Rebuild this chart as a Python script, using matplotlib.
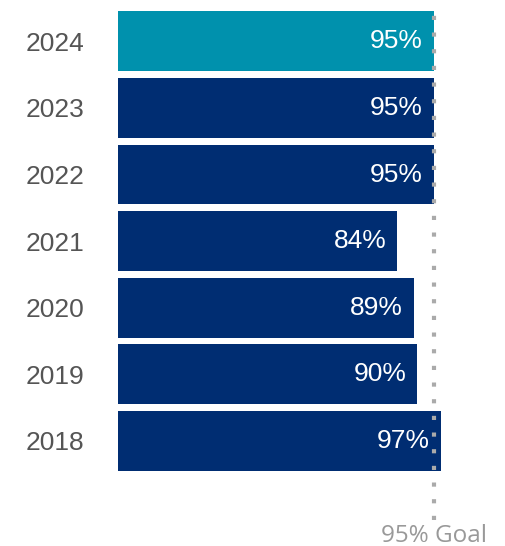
import matplotlib
matplotlib.use("Agg")
import matplotlib.pyplot as plt

years = ["2018", "2019", "2020", "2021", "2022", "2023", "2024"]
rates = [97, 90, 89, 84, 95, 95, 95]
goal = 95
goal_label = "95% Goal"

navy = "#002D72"
teal = "#0091AD"
colors = [navy] * (len(years) - 1) + [teal]

W, H = 506, 546
fig = plt.figure(figsize=(W / 100, H / 100), dpi=100)
ax = fig.add_axes([118 / W, 0, 366 / W, 1])

pos = list(range(len(years)))
bars = ax.barh(pos, rates, height=0.9, color=colors, zorder=2)

for p, v in zip(pos, rates):
    ax.annotate(f"{v}%", xy=(v, p), xytext=(-8, 0), textcoords="offset points",
                ha="right", va="center", color="white", fontsize=19,
                family="Liberation Sans", zorder=3)

# dotted goal marker, drawn on top of the bars
ax.plot([goal, goal], [-1.19, 6.56], color="#AAAAAA", linewidth=3.0,
        linestyle=(0, (1, 3)), dash_capstyle="butt", zorder=4)
ax.text(goal, -1.42, goal_label, ha="center", va="center", color="#999999",
        fontsize=17.5, family="Open Sans")

ax.set_xlim(0, 110)
ax.set_ylim(-1.577, 6.62)
ax.set_yticks(pos)
ax.set_yticklabels(years, fontsize=19, color="#555555", family="Liberation Sans")
ax.tick_params(axis="y", length=0, pad=24)
ax.set_xticks([])
for s in ax.spines.values():
    s.set_visible(False)

fig.savefig("out.png", dpi=100)
